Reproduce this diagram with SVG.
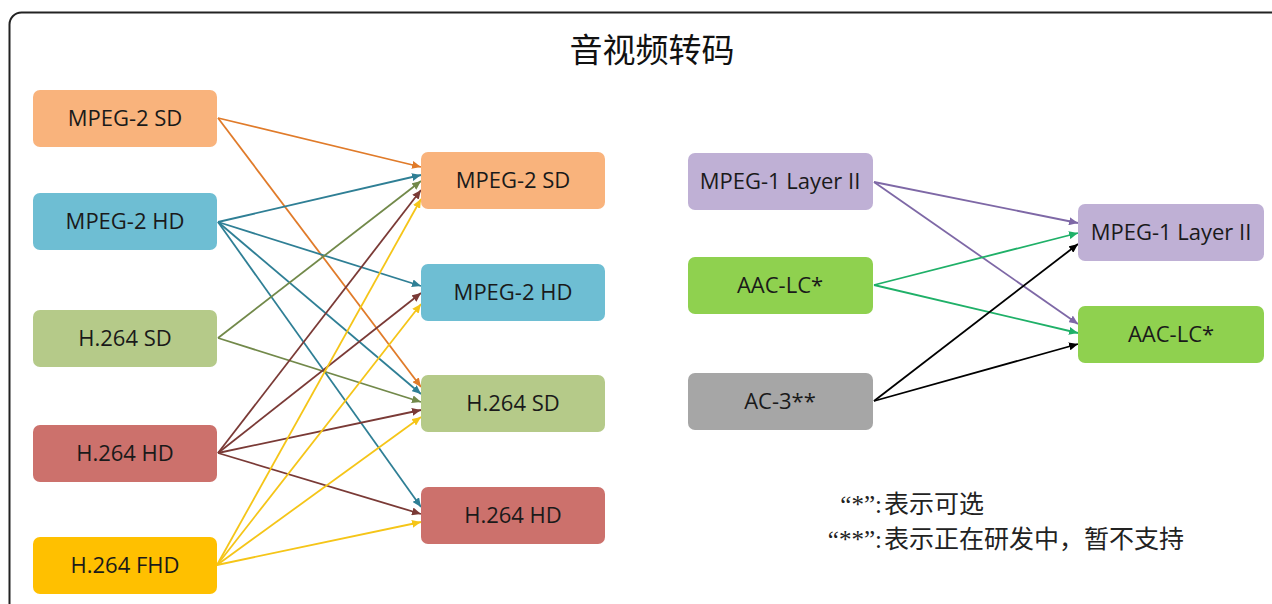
<svg xmlns="http://www.w3.org/2000/svg" width="1272" height="604" viewBox="0 0 1272 604">
<style>
.box text{font-family:"Open Sans","Noto Sans",sans-serif;font-size:22px;fill:#1a1a1a;text-anchor:middle}
.c line{stroke-width:1.8;fill:none}
.title{font-family:"Noto Sans CJK SC",sans-serif;font-size:33px;fill:#111;text-anchor:middle}
.note{font-family:"Noto Sans CJK SC",sans-serif;font-size:25px;fill:#222}
.q{font-family:"Liberation Serif","Noto Sans CJK SC",serif;font-size:25px;fill:#222;text-anchor:end}
</style>
<defs>
<marker id="mO" markerUnits="userSpaceOnUse" markerWidth="10" markerHeight="8" refX="9" refY="4" orient="auto"><path d="M0,0 L9,4 L0,8 z" fill="#e07b2a"/></marker>
<marker id="mT" markerUnits="userSpaceOnUse" markerWidth="10" markerHeight="8" refX="9" refY="4" orient="auto"><path d="M0,0 L9,4 L0,8 z" fill="#2f7f95"/></marker>
<marker id="mG" markerUnits="userSpaceOnUse" markerWidth="10" markerHeight="8" refX="9" refY="4" orient="auto"><path d="M0,0 L9,4 L0,8 z" fill="#72894a"/></marker>
<marker id="mR" markerUnits="userSpaceOnUse" markerWidth="10" markerHeight="8" refX="9" refY="4" orient="auto"><path d="M0,0 L9,4 L0,8 z" fill="#7a3a36"/></marker>
<marker id="mY" markerUnits="userSpaceOnUse" markerWidth="10" markerHeight="8" refX="9" refY="4" orient="auto"><path d="M0,0 L9,4 L0,8 z" fill="#f5c518"/></marker>
<marker id="mP" markerUnits="userSpaceOnUse" markerWidth="10" markerHeight="8" refX="9" refY="4" orient="auto"><path d="M0,0 L9,4 L0,8 z" fill="#7e68a6"/></marker>
<marker id="mN" markerUnits="userSpaceOnUse" markerWidth="10" markerHeight="8" refX="9" refY="4" orient="auto"><path d="M0,0 L9,4 L0,8 z" fill="#1fb068"/></marker>
<marker id="mK" markerUnits="userSpaceOnUse" markerWidth="10" markerHeight="8" refX="9" refY="4" orient="auto"><path d="M0,0 L9,4 L0,8 z" fill="#000"/></marker>
</defs>
<rect x="9.5" y="12.5" width="1290" height="640" rx="12" fill="#fff" stroke="#222" stroke-width="2"/>
<text class="title" x="652" y="62">音视频转码</text>

<g id="connectors" class="c">
<line x1="218" y1="118" x2="421" y2="167" stroke="#e07b2a" marker-end="url(#mO)"/>
<line x1="218" y1="118" x2="421" y2="387" stroke="#e07b2a" marker-end="url(#mO)"/>
<line x1="218" y1="222" x2="421" y2="175" stroke="#2f7f95" marker-end="url(#mT)"/>
<line x1="218" y1="222" x2="421" y2="286" stroke="#2f7f95" marker-end="url(#mT)"/>
<line x1="218" y1="222" x2="421" y2="394" stroke="#2f7f95" marker-end="url(#mT)"/>
<line x1="218" y1="222" x2="421" y2="507" stroke="#2f7f95" marker-end="url(#mT)"/>
<line x1="218" y1="338" x2="421" y2="181" stroke="#72894a" marker-end="url(#mG)"/>
<line x1="218" y1="338" x2="421" y2="402" stroke="#72894a" marker-end="url(#mG)"/>
<line x1="218" y1="453" x2="421" y2="190" stroke="#7a3a36" marker-end="url(#mR)"/>
<line x1="218" y1="453" x2="421" y2="293" stroke="#7a3a36" marker-end="url(#mR)"/>
<line x1="218" y1="453" x2="421" y2="410" stroke="#7a3a36" marker-end="url(#mR)"/>
<line x1="218" y1="453" x2="421" y2="514" stroke="#7a3a36" marker-end="url(#mR)"/>
<line x1="217" y1="565" x2="421" y2="199" stroke="#f5c518" marker-end="url(#mY)"/>
<line x1="217" y1="565" x2="421" y2="304" stroke="#f5c518" marker-end="url(#mY)"/>
<line x1="217" y1="565" x2="421" y2="417" stroke="#f5c518" marker-end="url(#mY)"/>
<line x1="217" y1="565" x2="421" y2="522" stroke="#f5c518" marker-end="url(#mY)"/>
<line x1="874" y1="182" x2="1078" y2="223" stroke="#7e68a6" marker-end="url(#mP)"/>
<line x1="874" y1="182" x2="1078" y2="324" stroke="#7e68a6" marker-end="url(#mP)"/>
<line x1="874" y1="285" x2="1078" y2="233" stroke="#1fb068" marker-end="url(#mN)"/>
<line x1="874" y1="285" x2="1078" y2="333" stroke="#1fb068" marker-end="url(#mN)"/>
<line x1="874" y1="401" x2="1078" y2="244" stroke="#000" marker-end="url(#mK)"/>
<line x1="874" y1="401" x2="1078" y2="344" stroke="#000" marker-end="url(#mK)"/>
</g>

<g id="src-mpeg2sd" class="box"><rect x="33" y="90" width="184" height="57" rx="7" fill="#f9b37c"/><text x="125" y="126">MPEG-2 SD</text></g>
<g id="src-mpeg2hd" class="box"><rect x="33" y="193" width="184" height="57" rx="7" fill="#6ebed3"/><text x="125" y="229">MPEG-2 HD</text></g>
<g id="src-h264sd" class="box"><rect x="33" y="310" width="184" height="57" rx="7" fill="#b5ca89"/><text x="125" y="346">H.264 SD</text></g>
<g id="src-h264hd" class="box"><rect x="33" y="425" width="184" height="57" rx="7" fill="#cc716c"/><text x="125" y="461">H.264 HD</text></g>
<g id="src-h264fhd" class="box"><rect x="33" y="537" width="184" height="57" rx="7" fill="#ffc000"/><text x="125" y="573">H.264 FHD</text></g>

<g id="dst-mpeg2sd" class="box"><rect x="421" y="152" width="184" height="57" rx="7" fill="#f9b37c"/><text x="513" y="188">MPEG-2 SD</text></g>
<g id="dst-mpeg2hd" class="box"><rect x="421" y="264" width="184" height="57" rx="7" fill="#6ebed3"/><text x="513" y="300">MPEG-2 HD</text></g>
<g id="dst-h264sd" class="box"><rect x="421" y="375" width="184" height="57" rx="7" fill="#b5ca89"/><text x="513" y="411">H.264 SD</text></g>
<g id="dst-h264hd" class="box"><rect x="421" y="487" width="184" height="57" rx="7" fill="#cc716c"/><text x="513" y="523">H.264 HD</text></g>

<g id="asrc-mpeg1" class="box"><rect x="688" y="153" width="185" height="57" rx="7" fill="#bfb0d5"/><text x="780" y="189">MPEG-1 Layer II</text></g>
<g id="asrc-aac" class="box"><rect x="688" y="257" width="185" height="57" rx="7" fill="#8fd14f"/><text x="780" y="293">AAC-LC*</text></g>
<g id="asrc-ac3" class="box"><rect x="688" y="373" width="185" height="57" rx="7" fill="#a6a6a6"/><text x="780" y="409">AC-3**</text></g>

<g id="adst-mpeg1" class="box"><rect x="1078" y="204" width="186" height="57" rx="7" fill="#bfb0d5"/><text x="1171" y="240">MPEG-1 Layer II</text></g>
<g id="adst-aac" class="box"><rect x="1078" y="306" width="186" height="57" rx="7" fill="#8fd14f"/><text x="1171" y="342">AAC-LC*</text></g>

<g id="notes">
<text class="q" x="882" y="513">“*”:</text>
<text class="note" x="884" y="513">表示可选</text>
<text class="q" x="882" y="548">“**”:</text>
<text class="note" x="884" y="548">表示正在研发中，暂不支持</text>
</g>
</svg>
